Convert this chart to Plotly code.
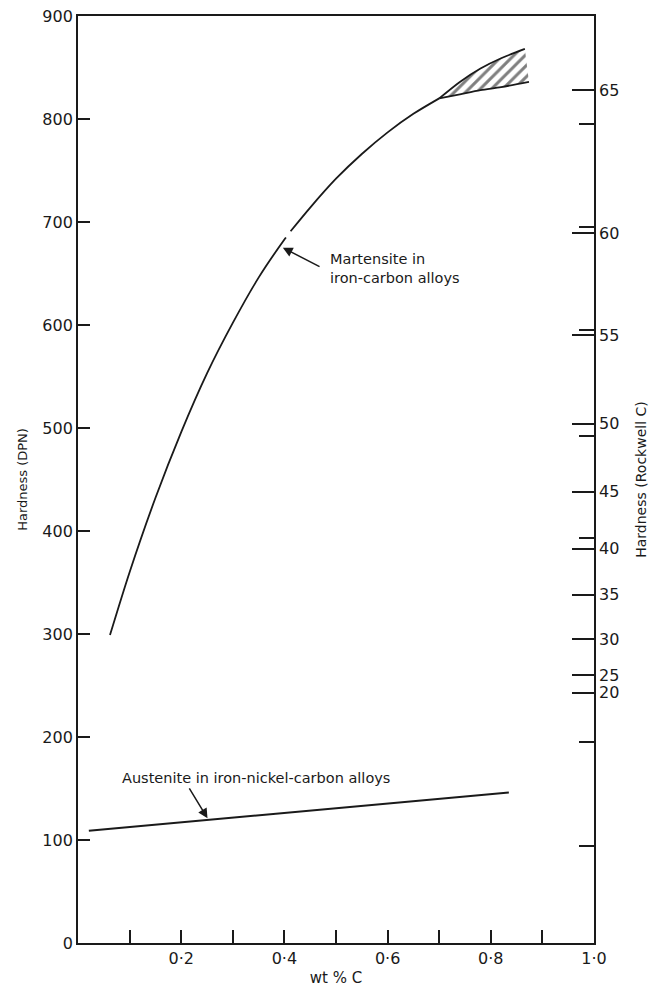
import plotly.graph_objects as go

# Martensite in iron-carbon alloys (DPN vs wt % C); a short break near 0.4 wt %
mart_wt_a = [0.062, 0.10, 0.15, 0.20, 0.25, 0.30, 0.35, 0.40, 0.403]
mart_dpn_a = [299, 360, 432, 496, 553, 602, 646, 683, 685]
mart_wt_b = [0.412, 0.45, 0.50, 0.55, 0.60, 0.65, 0.70]
mart_dpn_b = [691, 714, 742, 766, 787, 805, 820]

# Scatter band at high carbon (upper and lower bounds)
band_wt_upper = [0.70, 0.74, 0.78, 0.82, 0.866]
band_dpn_upper = [820, 836, 849, 859, 868]
band_wt_lower = [0.70, 0.74, 0.78, 0.82, 0.874]
band_dpn_lower = [820, 824, 828, 831, 836]

# Austenite in iron-nickel-carbon alloys
aus_wt = [0.021, 0.835]
aus_dpn = [109, 146]

# Axis ticks
x_tickvals = [0.1, 0.2, 0.3, 0.4, 0.5, 0.6, 0.7, 0.8, 0.9, 1.0]
x_ticktext = ["", "0·2", "", "0·4", "", "0·6", "", "0·8", "", "1·0"]
dpn_tickvals = [0, 100, 200, 300, 400, 500, 600, 700, 800, 900]

# Rockwell C scale, placed at equivalent DPN values
hrc_dpn = [828, 689, 590, 504, 438, 383, 338, 295, 260, 243]
hrc_labels = ["65", "60", "55", "50", "45", "40", "35", "30", "25", "20"]
hrc_minor_dpn = [795, 695, 595, 492, 393, 195, 94]

INK = "#1a1a1a"
FONT = "DejaVu Sans"

fig = go.Figure()

line_style = dict(color=INK, width=1.8, shape="spline", smoothing=0.8)
fig.add_trace(go.Scatter(x=mart_wt_a, y=mart_dpn_a, mode="lines", line=line_style))
fig.add_trace(go.Scatter(x=mart_wt_b, y=mart_dpn_b, mode="lines", line=line_style))

# Hatched band between the two bounds (open on the right-hand side)
fig.add_trace(go.Scatter(
    x=band_wt_upper + band_wt_lower[::-1],
    y=band_dpn_upper + band_dpn_lower[::-1],
    mode="lines", fill="toself",
    line=dict(width=0, color="rgba(0,0,0,0)"),
    fillcolor="white",
    fillpattern=dict(shape="/", fgcolor="#000000", bgcolor="white", size=8, solidity=0.38),
))
fig.add_trace(go.Scatter(x=band_wt_upper, y=band_dpn_upper, mode="lines", line=line_style))
fig.add_trace(go.Scatter(x=band_wt_lower, y=band_dpn_lower, mode="lines", line=line_style))

fig.add_trace(go.Scatter(x=aus_wt, y=aus_dpn, mode="lines", line=dict(color=INK, width=2)))

# Placeholder traces so the right-hand scales are drawn
fig.add_trace(go.Scatter(x=[None], y=[None], yaxis="y2", mode="lines"))
fig.add_trace(go.Scatter(x=[None], y=[None], yaxis="y3", mode="lines"))

label_font = dict(family=FONT, size=14.5, color=INK)
fig.add_annotation(x=0.082, y=160, text="Austenite in iron-nickel-carbon alloys",
                   showarrow=False, xanchor="left", yanchor="middle", font=label_font)
fig.add_annotation(x=0.251, y=121, ax=0.214, ay=151.5, axref="x", ayref="y",
                   text="", showarrow=True, arrowhead=2, arrowsize=1.3,
                   arrowwidth=1.5, arrowcolor=INK)
fig.add_annotation(x=0.484, y=655, text="Martensite in<br>iron-carbon alloys",
                   showarrow=False, xanchor="left", yanchor="middle", align="left",
                   font=label_font)
fig.add_annotation(x=0.397, y=675, ax=0.471, ay=656, axref="x", ayref="y",
                   text="", showarrow=True, arrowhead=2, arrowsize=1.3,
                   arrowwidth=1.5, arrowcolor=INK)

tick_font = dict(family=FONT, size=16, color=INK)

fig.update_layout(
    width=651, height=987,
    margin=dict(l=78, r=57, t=16, b=44),
    paper_bgcolor="white", plot_bgcolor="white",
    showlegend=False,
    xaxis=dict(
        range=[0, 1.0], tickvals=x_tickvals, ticktext=x_ticktext,
        ticks="inside", ticklen=13, tickwidth=1.8, tickcolor=INK,
        showline=True, linecolor=INK, linewidth=1.8, mirror=True,
        showgrid=False, zeroline=False, tickfont=tick_font, automargin=False,
        title=dict(text="wt % C", font=dict(family=FONT, size=15, color=INK), standoff=6),
    ),
    yaxis=dict(
        range=[0, 900], tickvals=dpn_tickvals,
        ticks="inside", ticklen=12, tickwidth=1.8, tickcolor=INK,
        showline=True, linecolor=INK, linewidth=1.8,
        showgrid=False, zeroline=False, tickfont=tick_font, automargin=False,
        title=dict(text="Hardness (DPN)", font=dict(family=FONT, size=13, color=INK), standoff=12),
    ),
    yaxis2=dict(
        range=[0, 900], overlaying="y", side="right",
        tickvals=hrc_dpn, ticktext=hrc_labels,
        ticks="inside", ticklen=22, tickwidth=2, tickcolor=INK,
        showline=True, linecolor=INK, linewidth=1.8,
        showgrid=False, zeroline=False, tickfont=tick_font, automargin=False,
        title=dict(text="Hardness (Rockwell C)", font=dict(family=FONT, size=14, color=INK), standoff=18),
    ),
    yaxis3=dict(
        range=[0, 900], overlaying="y", side="right",
        tickvals=hrc_minor_dpn, showticklabels=False,
        ticks="inside", ticklen=15, tickwidth=1.6, tickcolor=INK,
        showline=False, showgrid=False, zeroline=False, automargin=False,
    ),
)

fig.write_html("out.html")
